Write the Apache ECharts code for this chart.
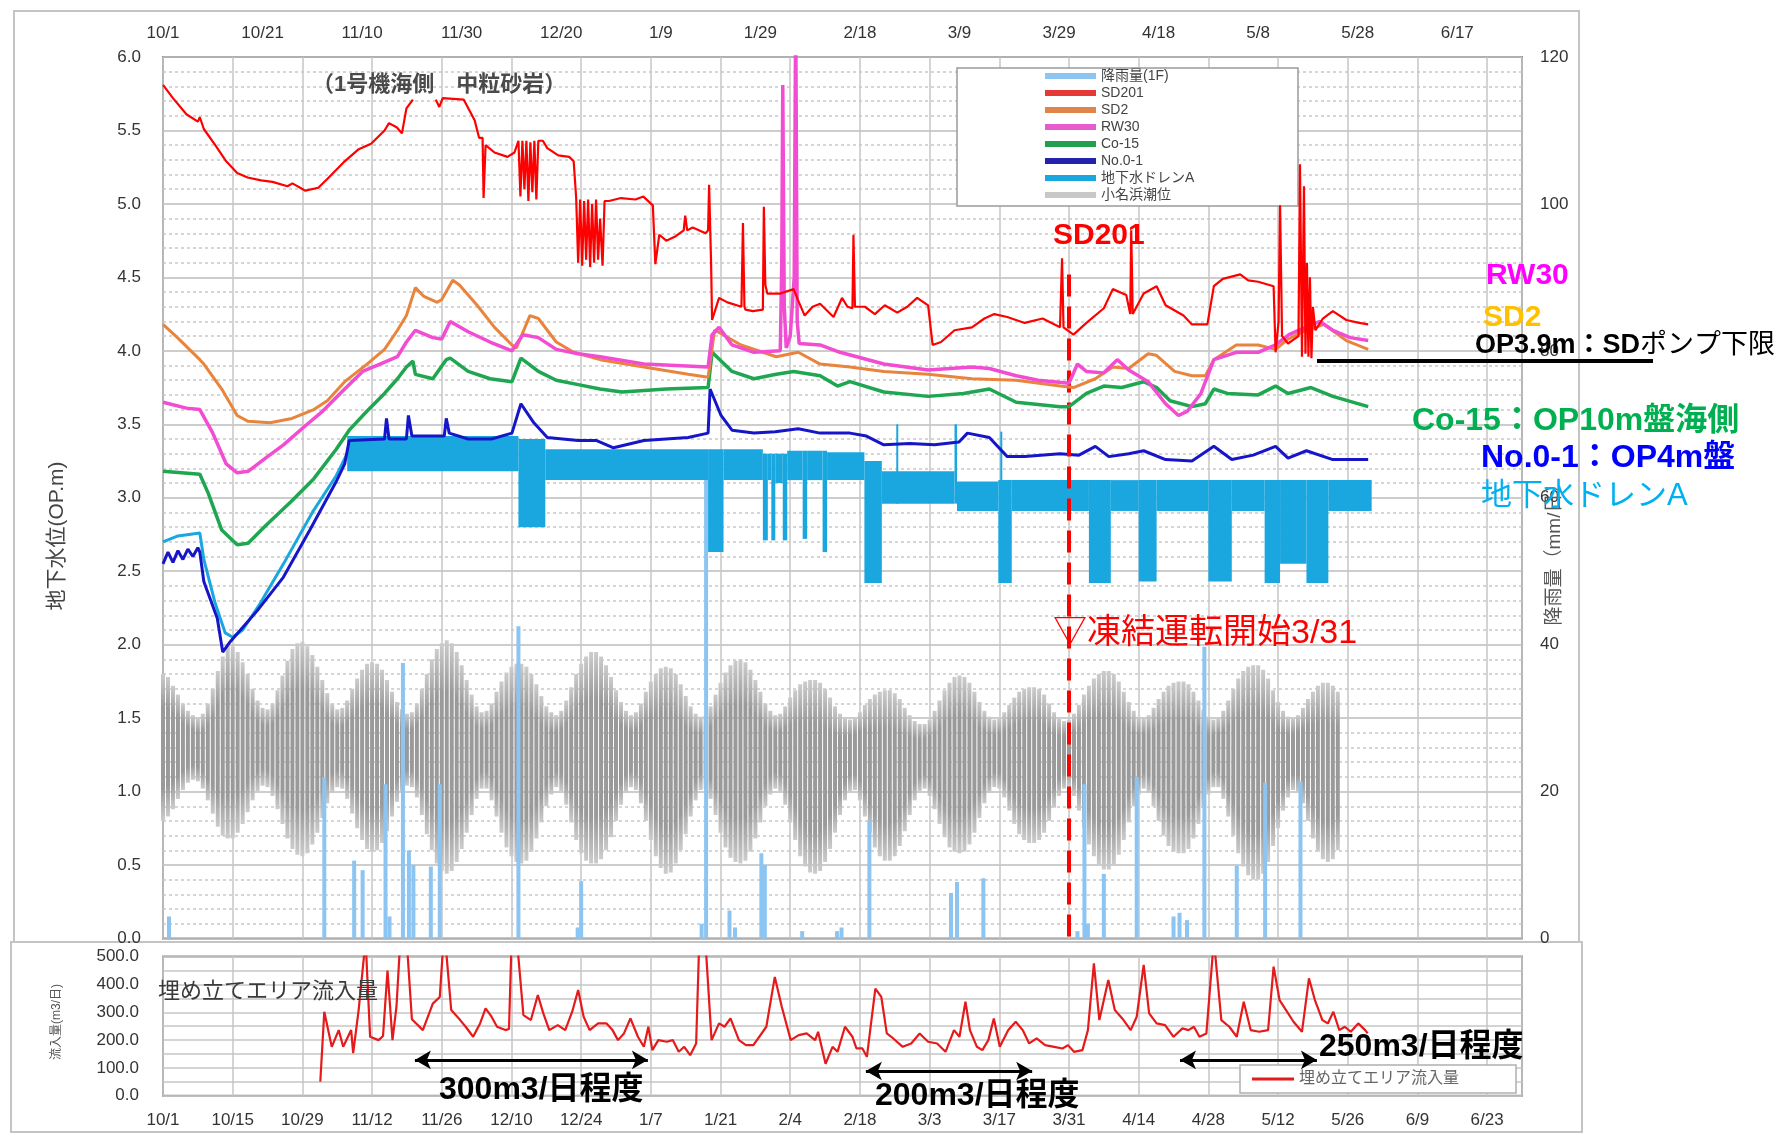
<!DOCTYPE html>
<html><head><meta charset="utf-8">
<script src="https://cdn.jsdelivr.net/npm/echarts/dist/echarts.min.js"></script>
<style>html,body{margin:0;padding:0;background:#fff}#c{width:1775px;height:1133px}</style>
</head><body><div id="c"></div>
<script>
// ---------- DATA (x = days since 2015/10/1) ----------
const sd201 = [[0,5.81],[2,5.72],[4.7,5.61],[7,5.56],[7.4,5.59],[8.2,5.51],[10.5,5.40],[12.7,5.29],[14.9,5.21],[17,5.18],[19.7,5.16],[22,5.15],[25,5.12],[26,5.14],[28.6,5.09],[31.2,5.11],[33,5.17],[36.5,5.29],[39.2,5.37],[41.8,5.41],[44.5,5.50],[45.4,5.55],[47,5.52],[48,5.48],[48.9,5.65],[50.2,5.71],[51,null],[54.8,5.71],[55.5,5.66],[56.2,5.72],[60.4,5.71],[62.6,5.57],[63.5,5.45],[64.2,5.45],[64.4,5.04],[64.8,5.40],[66.6,5.35],[69.2,5.32],[70.6,5.35],[71.4,5.43],[71.8,5.05],[72.2,5.43],[72.6,5.10],[73,5.43],[73.4,5.02],[73.8,5.42],[74.2,5.08],[74.6,5.43],[75,5.03],[75.4,5.43],[76.3,5.43],[77.2,5.38],[79.4,5.33],[81.6,5.32],[82.5,5.29],[83,5.04],[83.4,4.60],[83.8,5.03],[84.2,4.58],[84.6,5.02],[85,4.62],[85.4,5.03],[85.8,4.57],[86.2,5.00],[86.6,4.60],[87,5.03],[87.4,4.62],[87.8,4.90],[88.3,4.58],[88.7,5.02],[89.6,5.02],[92,5.04],[94.9,5.03],[96.5,5.05],[98.4,4.99],[98.9,4.59],[99.7,4.79],[101.1,4.75],[103,4.78],[104.6,4.82],[104.9,4.92],[105.3,4.82],[106.4,4.84],[109,4.80],[109.5,4.82],[109.7,5.13],[110.1,4.60],[110.3,4.21],[111.7,4.36],[113.4,4.33],[116.2,4.30],[116.5,4.87],[116.8,4.30],[117,4.28],[118.5,4.27],[120.5,4.28],[120.7,4.98],[121,4.45],[121.4,4.39],[124,4.39],[126.7,4.42],[127.5,4.35],[128.9,4.24],[130.5,4.30],[132,4.32],[134.7,4.23],[136.4,4.36],[137.5,4.30],[138.5,4.29],[138.7,4.79],[139,4.30],[141,4.30],[143,4.25],[145,4.31],[147.5,4.26],[149.5,4.30],[151.5,4.36],[153.7,4.31],[154.6,4.04],[156.3,4.06],[159,4.14],[162.5,4.16],[165,4.22],[167,4.25],[169.6,4.23],[173.1,4.19],[176.7,4.22],[180.2,4.16],[180.6,4.63],[180.9,4.16],[182.9,4.11],[185.5,4.19],[189,4.29],[190.8,4.42],[193.5,4.38],[194.3,4.25],[194.5,4.82],[194.8,4.25],[197,4.39],[199.6,4.44],[201.4,4.31],[205,4.24],[206.7,4.18],[209.8,4.18],[211.1,4.44],[212.9,4.49],[216.4,4.52],[218,4.48],[220,4.47],[223.1,4.44],[223.5,3.99],[224.1,4.20],[224.4,4.99],[224.8,4.10],[226,4.05],[228.1,4.10],[228.4,5.27],[228.8,3.96],[229.2,5.12],[229.5,3.98],[229.8,4.60],[230.1,3.96],[230.4,4.50],[230.7,3.95],[231,4.30],[231.5,4.14],[233,4.22],[235,4.27],[237.7,4.21],[240.3,4.19],[242.1,4.18]];

const sd2 = [[0,4.18],[2.9,4.09],[7.4,3.94],[8.2,3.91],[11.8,3.74],[14.9,3.56],[17.1,3.52],[21.5,3.51],[25.9,3.54],[30.3,3.60],[33,3.66],[36.5,3.79],[41,3.91],[44.5,4.01],[47.1,4.14],[48.9,4.24],[50.7,4.43],[52.4,4.37],[55.1,4.33],[56,4.35],[58.2,4.48],[59.5,4.45],[63.1,4.31],[66.6,4.16],[70.1,4.04],[71,4.02],[73.7,4.24],[75.4,4.22],[79,4.06],[82.5,3.99],[87.8,3.94],[96.6,3.89],[105.5,3.84],[109.5,3.82],[110.8,4.14],[112,4.12],[116.1,4.04],[123.2,3.96],[127.6,3.99],[132,3.91],[138,3.89],[144.8,3.86],[153.7,3.84],[162.5,3.81],[171.4,3.80],[180.2,3.76],[182.9,3.75],[187.3,3.81],[190.8,3.89],[194,3.88],[197.9,3.98],[199.5,3.97],[203.2,3.86],[206.7,3.83],[209.4,3.83],[211.1,3.94],[215.6,4.04],[220,4.04],[223.5,4.01],[226,4.08],[229,4.13],[233.2,4.18],[237.7,4.07],[242.1,4.01]];

const rw30 = [[0,3.65],[4.7,3.61],[7.4,3.60],[10,3.44],[12.7,3.23],[14.9,3.17],[17.1,3.18],[20.6,3.27],[24.2,3.36],[28.6,3.49],[32.1,3.59],[36.5,3.74],[40.1,3.86],[43.6,3.91],[47.1,3.96],[48.9,4.06],[50.7,4.14],[54.2,4.09],[56,4.08],[57.7,4.20],[61.3,4.13],[65.7,4.06],[70.1,4.00],[72.3,4.11],[75.4,4.09],[79,4.01],[83.4,3.98],[87.8,3.96],[96.6,3.91],[109.5,3.89],[110.3,4.11],[111.7,4.16],[114.3,4.04],[118.7,3.99],[124,4.00],[124.3,4.60],[124.5,5.81],[124.8,4.30],[125.2,4.02],[126,4.10],[126.8,4.50],[127.1,6.30],[127.4,4.20],[127.8,4.05],[132,4.04],[136,3.99],[144.8,3.91],[153.7,3.87],[162.5,3.89],[166,3.88],[171.4,3.83],[175.8,3.80],[182,3.78],[183.7,3.91],[185.5,3.86],[189,3.85],[191.7,3.94],[194,3.87],[197.9,3.79],[201.4,3.64],[204,3.56],[205.8,3.59],[208.5,3.71],[211.1,3.94],[215.6,3.99],[220,3.99],[223.5,4.04],[226.2,4.11],[228.8,4.15],[232.4,4.20],[235,4.14],[238.5,4.09],[242.1,4.07]];

const co15 = [[0,3.18],[7.4,3.16],[9.1,3.03],[11.8,2.78],[14.9,2.68],[17.1,2.69],[20.6,2.81],[25.9,2.98],[30.3,3.13],[34.8,3.33],[37.4,3.46],[41,3.59],[44.5,3.71],[47.1,3.81],[48.9,3.89],[50.2,3.93],[50.7,3.84],[54.2,3.81],[56.9,3.94],[57.7,3.95],[61.3,3.86],[65.7,3.81],[70.1,3.79],[71.9,3.95],[75.4,3.86],[79,3.80],[83.4,3.77],[87.8,3.74],[92.2,3.72],[101.1,3.74],[109.5,3.75],[110.3,3.99],[114.3,3.86],[118.7,3.81],[123.2,3.84],[126.7,3.86],[132,3.83],[135.5,3.76],[138,3.79],[144.8,3.72],[153.7,3.69],[160.8,3.71],[166,3.74],[171.4,3.65],[180.2,3.62],[182,3.62],[185.5,3.71],[189,3.76],[192.6,3.75],[197,3.79],[199.6,3.75],[202.3,3.66],[206.7,3.62],[209.4,3.64],[211.1,3.74],[213.8,3.71],[220,3.70],[223.5,3.76],[226,3.71],[230.6,3.75],[235,3.69],[242.1,3.62]];

const no01 = [[0,2.55],[1,2.63],[2,2.56],[3,2.64],[4,2.58],[5,2.65],[6,2.60],[7,2.66],[7.4,2.63],[8.2,2.43],[10.9,2.18],[12,1.95],[13.5,2.02],[18.9,2.23],[24.2,2.46],[29.5,2.78],[34.8,3.11],[36.5,3.23],[37.4,3.39],[44.5,3.40],[44.9,3.54],[45.4,3.40],[48.9,3.40],[49.3,3.56],[50,3.42],[56.5,3.42],[56.9,3.54],[57.5,3.44],[61.3,3.40],[66,3.40],[70.1,3.44],[71.9,3.64],[74.5,3.51],[77.2,3.41],[83.4,3.39],[87,3.39],[90.5,3.34],[96.6,3.39],[105.5,3.41],[109.5,3.44],[109.9,3.74],[112.1,3.56],[114.3,3.46],[118.7,3.44],[123,3.45],[127.6,3.47],[132,3.44],[138,3.44],[141.3,3.42],[144.8,3.36],[150,3.37],[155,3.36],[159.9,3.38],[161.6,3.44],[166,3.41],[169.6,3.28],[173.1,3.28],[180.2,3.30],[184,3.29],[187.3,3.35],[190,3.28],[194,3.30],[197,3.32],[201.4,3.26],[206.7,3.25],[211.1,3.35],[214.7,3.26],[219,3.29],[223.5,3.35],[226,3.27],[229.7,3.32],[235,3.26],[242.1,3.26]];

const drainLine = [[0,2.70],[3,2.74],[7.4,2.76],[8.2,2.58],[10.5,2.28],[12.5,2.08],[14,2.05],[16,2.10],[19.5,2.28],[24.2,2.55],[30,2.90],[34.8,3.15],[37,3.30]];
// [start day, end day, low, high]
const drainBand = [[37,71.4,3.18,3.42],[71.4,76.8,2.80,3.40],[76.8,109.5,3.12,3.33],[109.5,112.6,2.63,3.33],[112.6,120.5,3.12,3.33],[120.5,121.5,2.71,3.30],[121.5,122.2,3.12,3.30],[122.2,123,2.71,3.30],[123,124.5,3.10,3.30],[124.5,125.4,2.71,3.30],[125.4,128.5,3.12,3.32],[128.5,129.4,2.72,3.32],[129.4,132.5,3.12,3.32],[132.5,133.4,2.63,3.32],[133.4,140.9,3.12,3.31],[140.9,144.4,2.42,3.25],[144.4,159,2.96,3.18],[147.3,147.7,2.96,3.50],[159,159.5,2.96,3.50],[159.5,167.8,2.91,3.11],[167.8,170.5,2.42,3.12],[168.2,168.6,2.90,3.45],[170.5,186,2.91,3.12],[186,190.4,2.42,3.12],[190.4,196,2.91,3.12],[196,199.6,2.43,3.12],[199.6,210,2.91,3.12],[210,214.7,2.43,3.12],[214.7,221.3,2.91,3.12],[221.3,224.4,2.42,3.12],[224.4,229.7,2.55,3.12],[229.7,234.1,2.42,3.12],[234.1,242.8,2.91,3.12]];

// 小名浜潮位: daily high / low (day 0..236)
const tideHigh = [1.80,1.78,1.72,1.66,1.60,1.55,1.52,1.50,1.53,1.60,1.70,1.82,1.92,2.00,
1.99,1.95,1.88,1.80,1.70,1.62,1.57,1.56,1.60,1.69,1.79,1.89,1.97,2.01,2.02,
1.99,1.93,1.85,1.76,1.67,1.60,1.56,1.57,1.62,1.70,1.77,1.83,1.87,1.88,
1.87,1.83,1.76,1.68,1.61,1.56,1.53,1.54,1.60,1.70,1.80,1.90,1.97,2.01,2.03,
2.01,1.95,1.86,1.76,1.66,1.58,1.54,1.55,1.60,1.68,1.75,1.81,1.85,1.87,1.87,
1.85,1.80,1.73,1.65,1.58,1.54,1.52,1.55,1.62,1.71,1.80,1.87,1.92,1.95,1.95,
1.92,1.86,1.78,1.69,1.61,1.55,1.52,1.54,1.60,1.68,1.75,1.80,1.84,1.85,
1.84,1.80,1.73,1.65,1.58,1.53,1.51,1.52,1.58,1.66,1.74,1.81,1.86,1.89,1.90,
1.88,1.83,1.76,1.68,1.60,1.55,1.52,1.53,1.58,1.64,1.69,1.73,1.75,1.76,1.76,
1.74,1.70,1.64,1.58,1.53,1.50,1.49,1.50,1.54,1.59,1.63,1.66,1.68,1.69,1.69,
1.67,1.63,1.57,1.52,1.48,1.46,1.46,1.49,1.55,1.62,1.69,1.74,1.78,1.79,
1.78,1.74,1.68,1.61,1.55,1.51,1.49,1.50,1.54,1.59,1.64,1.68,1.70,1.71,1.71,
1.70,1.66,1.60,1.54,1.50,1.48,1.49,1.53,1.59,1.66,1.72,1.77,1.80,1.82,1.82,
1.80,1.75,1.68,1.61,1.55,1.51,1.50,1.52,1.57,1.63,1.68,1.72,1.74,1.75,1.75,
1.73,1.68,1.62,1.56,1.51,1.49,1.50,1.55,1.62,1.70,1.77,1.82,1.85,1.86,1.86,
1.83,1.77,1.69,1.61,1.55,1.51,1.50,1.52,1.57,1.63,1.68,1.72,1.74,1.74,1.72,1.68];
const tideLow = [0.80,0.83,0.88,0.95,1.01,1.06,1.08,1.07,1.02,0.94,0.85,0.76,0.70,0.68,
0.68,0.72,0.78,0.86,0.94,1.00,1.04,1.03,0.97,0.88,0.78,0.68,0.61,0.57,0.56,
0.58,0.64,0.72,0.82,0.92,0.99,1.03,1.02,0.95,0.85,0.75,0.67,0.61,0.59,
0.60,0.65,0.73,0.83,0.93,1.00,1.04,1.03,0.96,0.84,0.71,0.60,0.51,0.46,0.44,
0.46,0.52,0.61,0.72,0.84,0.95,1.02,1.02,0.94,0.83,0.72,0.62,0.56,0.52,0.51,
0.53,0.59,0.68,0.79,0.90,0.98,1.03,1.00,0.91,0.79,0.67,0.58,0.53,0.51,0.51,
0.54,0.60,0.69,0.80,0.91,0.99,1.03,1.01,0.92,0.80,0.67,0.56,0.48,0.44,
0.45,0.51,0.60,0.71,0.83,0.94,1.01,1.02,0.95,0.84,0.72,0.62,0.55,0.52,0.51,
0.53,0.59,0.68,0.79,0.90,0.98,1.02,1.00,0.91,0.79,0.67,0.56,0.49,0.45,0.44,
0.46,0.52,0.61,0.72,0.84,0.94,1.00,1.01,0.94,0.83,0.72,0.62,0.56,0.53,0.53,
0.56,0.63,0.73,0.84,0.94,1.00,1.02,0.97,0.88,0.78,0.69,0.62,0.59,0.58,
0.59,0.64,0.72,0.82,0.92,0.99,1.03,1.02,0.96,0.87,0.78,0.71,0.67,0.65,0.65,
0.67,0.72,0.80,0.89,0.97,1.02,1.03,0.97,0.87,0.75,0.64,0.56,0.50,0.47,0.47,
0.50,0.57,0.67,0.79,0.90,0.98,1.02,0.99,0.90,0.80,0.70,0.63,0.59,0.58,0.58,
0.61,0.68,0.78,0.89,0.98,1.03,1.03,0.95,0.83,0.70,0.58,0.49,0.43,0.40,0.40,
0.44,0.52,0.63,0.75,0.87,0.96,1.01,1.00,0.92,0.80,0.68,0.59,0.54,0.52,0.54,0.60];

// 降雨量(1F) mm/日
const rain = [[1.2,3],[32.4,22],[38.4,10.6],[40.1,9.3],[44.7,21],[45.5,3],[48.2,37.5],[49.4,12],[50.3,10],[53.8,9.8],[55.6,21],[71.4,42.5],[83.3,1.5],[84,7.8],[108.2,2],[109.1,66],[113.8,3.8],[114.9,1.5],[120.2,11.6],[120.9,10],[128.4,1],[135.4,1],[136.3,1.5],[141.9,16],[158.3,6.2],[159.5,7.7],[164.8,8.2],[183.7,1],[185.1,21],[185.8,2],[189,8.8],[195.6,22],[203,3],[204.2,3.5],[205.7,2.5],[209.2,39.7],[215.7,9.9],[221.4,21.2],[228.5,21.4]];

// 埋め立てエリア流入量 m3/日
const inflow = [[31.6,51],[32.4,302],[33.9,176],[35.3,236],[36.2,176],[37.8,236],[38.2,153],[39.3,308],[40.7,560],[41.6,212],[43.3,200],[44.2,215],[45.1,450],[46.1,200],[46.9,320],[47.8,600],[48.8,600],[50,275],[52.2,236],[54.2,331],[55.6,355],[56.5,600],[57.9,308],[59.7,272],[60.8,248],[62.3,212],[63.7,260],[64.8,314],[66,284],[67.1,248],[68.8,236],[69.5,240],[70.1,600],[70.9,600],[72.4,290],[73.9,272],[75.3,362],[76.4,296],[77.6,236],[79.3,254],[80.8,236],[82.2,302],[83.4,380],[84.5,284],[85.7,236],[87.4,260],[89.1,260],[90.3,236],[91.4,200],[92.6,224],[93.9,278],[95.4,212],[96.6,176],[97.5,248],[98.3,164],[99.5,200],[101.2,194],[102.4,200],[103.6,158],[104.7,176],[105.9,146],[107.1,188],[107.8,600],[108.8,600],[110.2,200],[111.7,260],[112.8,248],[114,278],[115.7,200],[117.1,182],[118.6,182],[121.2,248],[122.9,427],[124.3,320],[126.1,200],[127.7,218],[129.3,224],[131,200],[131.6,230],[133.1,115],[134.5,176],[135.5,158],[137,248],[138.5,212],[139.3,170],[140.5,170],[141.4,140],[143.1,385],[144.3,355],[145.4,224],[146.3,212],[148.6,176],[150.3,188],[152,224],[153.7,194],[155.5,188],[157.2,158],[158.9,236],[160,212],[161.2,338],[162.1,236],[163.5,176],[164.6,164],[165.8,200],[166.9,278],[168.1,176],[169.8,236],[171.3,266],[172.7,236],[174,188],[175.5,206],[177.2,182],[179,176],[180.7,170],[181.8,182],[183,158],[184.7,164],[185.8,236],[187,476],[188.1,272],[189.9,416],[191.2,308],[192.7,278],[194.4,236],[195.6,284],[197,470],[198.1,296],[199.6,260],[201.3,254],[203,212],[204.8,242],[206,236],[207.1,248],[208.2,212],[209.6,224],[211.1,560],[212.6,272],[214.2,248],[215.7,212],[217.1,338],[218.5,236],[220.2,230],[222,236],[223.1,464],[224.3,344],[225.6,308],[227.1,266],[228.8,230],[230.2,422],[231.4,344],[232.9,272],[234,260],[235.1,302],[236.3,236],[237.4,248],[238.6,230],[240.1,260],[241.5,236],[242,224]];

const legendNames = ['降雨量(1F)','SD201','SD2','RW30','Co-15','No.0-1','地下水ドレンA','小名浜潮位'];
const freezeDay = 182; // 3/31

// ---------- CHART ----------
const FF = '"Liberation Sans", Arial, "Noto Sans CJK JP", sans-serif';
const JF = '"Liberation Sans", "Noto Sans CJK JP", sans-serif';
function dayLabel(d){ const t = new Date(2015, 9, 1 + Math.round(d)); return (t.getMonth()+1) + '/' + t.getDate(); }

const tideData = tideHigh.map((h, i) => [i, tideLow[i], h]);

const tideFill = {type:'linear', x:0, y:0, x2:0, y2:1, colorStops:[
  {offset:0, color:'#cccccc'},{offset:0.22, color:'#9a9a9a'},{offset:0.78, color:'#9a9a9a'},{offset:1, color:'#cccccc'}]};

function renderTide(params, api){
  const x = api.value(0);
  const p1 = api.coord([x, api.value(2)]);
  const p2 = api.coord([x, api.value(1)]);
  const w = api.size([1, 0])[0] * 0.8;
  return {type:'rect', shape:{x:p1[0]-w/2, y:p1[1], width:w, height:p2[1]-p1[1]}, style:{fill:tideFill}};
}
function renderBand(params, api){
  const a = api.coord([api.value(0), api.value(3)]);
  const b = api.coord([api.value(1), api.value(2)]);
  return {type:'rect', shape:{x:a[0], y:a[1], width:Math.max(b[0]-a[0], 1.6), height:b[1]-a[1]}, style:{fill:'#1AA7E0'}};
}

const lineBase = {type:'line', xAxisIndex:0, yAxisIndex:0, showSymbol:false, symbol:'none', silent:true, connectNulls:false};

const axLabel = {fontSize:17, color:'#333', fontFamily:FF};

const option = {
  animation:false,
  backgroundColor:'#ffffff',
  textStyle:{fontFamily:FF},
  grid:[
    {left:163, top:57, width:1359, height:881.5, show:true, borderColor:'#8c8c8c', borderWidth:2},
    {left:163, top:956.6, width:1359, height:139.2, show:true, borderColor:'#8c8c8c', borderWidth:2}
  ],
  xAxis:[
    {gridIndex:0, type:'value', min:0, max:273, interval:14, position:'bottom',
     axisLine:{show:false}, axisTick:{show:false}, axisLabel:{show:false},
     splitLine:{show:true, lineStyle:{color:'#c6c6c6', width:1.5}}},
    {gridIndex:0, type:'value', min:0, max:273, interval:20, position:'top',
     axisLine:{show:false}, axisTick:{show:false}, splitLine:{show:false},
     axisLabel:Object.assign({margin:15, formatter:dayLabel, showMaxLabel:false}, axLabel)},
    {gridIndex:1, type:'value', min:0, max:273, interval:14, position:'bottom',
     axisLine:{show:false}, axisTick:{show:false},
     splitLine:{show:true, lineStyle:{color:'#c6c6c6', width:1.5}},
     axisLabel:Object.assign({margin:16, formatter:dayLabel, showMaxLabel:false}, axLabel)}
  ],
  yAxis:[
    {gridIndex:0, type:'value', min:0, max:6, interval:0.5,
     axisLine:{show:false}, axisTick:{show:false},
     axisLabel:Object.assign({margin:22, formatter:v => v.toFixed(1)}, axLabel),
     splitLine:{lineStyle:{color:'#bdbdbd', width:1.5}},
     minorTick:{show:false, splitNumber:5},
     minorSplitLine:{show:true, lineStyle:{color:'#c8c8c8', width:1.5, type:[3,3]}}},
    {gridIndex:0, type:'value', min:0, max:120, interval:20, position:'right',
     axisLine:{show:false}, axisTick:{show:false}, splitLine:{show:false},
     axisLabel:Object.assign({margin:18}, axLabel)},
    {gridIndex:1, type:'value', min:0, max:500, interval:100,
     axisLine:{show:false}, axisTick:{show:false},
     axisLabel:Object.assign({margin:24, formatter:v => v.toFixed(1)}, axLabel),
     splitLine:{lineStyle:{color:'#c6c6c6', width:1.5}},
     minorTick:{show:false, splitNumber:2},
     minorSplitLine:{show:true, lineStyle:{color:'#c6c6c6', width:1.5}}}
  ],
  legend:[
    {data:legendNames.map(n => ({name:n})), orient:'vertical', left:1045, top:69, itemWidth:51, itemHeight:6, itemGap:3,
     icon:'rect', selectedMode:false, padding:0, z:10,
     textStyle:{fontSize:14, lineHeight:14, color:'#444', fontFamily:JF}},
    {data:['埋め立てエリア流入量'], left:1252, top:1071, itemWidth:42, itemHeight:3, icon:'rect',
     selectedMode:false, padding:0, z:10, textStyle:{fontSize:16, color:'#666', fontFamily:JF}}
  ],
  series:[
    {name:'小名浜潮位', type:'custom', xAxisIndex:0, yAxisIndex:0, renderItem:renderTide, data:tideData,
     encode:{x:0, y:[1,2]}, itemStyle:{color:'#c8c8c8'}, silent:true, z:1},
    {name:'降雨量(1F)', type:'bar', xAxisIndex:0, yAxisIndex:1, data:rain, barWidth:4,
     itemStyle:{color:'#8CC4F2'}, silent:true, z:2},
    {name:'地下水ドレンA', type:'custom', xAxisIndex:0, yAxisIndex:0, renderItem:renderBand, data:drainBand,
     encode:{x:[0,1], y:[2,3]}, itemStyle:{color:'#1AA7E0'}, silent:true, z:3},
    Object.assign({}, lineBase, {name:'地下水ドレンA', data:drainLine, lineStyle:{color:'#1AA7E0', width:3}, itemStyle:{color:'#1AA7E0'}, z:3}),
    Object.assign({}, lineBase, {name:'No.0-1', data:no01, lineStyle:{color:'#1616C8', width:3}, itemStyle:{color:'#2222AA'}, z:4}),
    Object.assign({}, lineBase, {name:'Co-15', data:co15, lineStyle:{color:'#1EA650', width:3.5}, itemStyle:{color:'#22A050'}, z:5}),
    Object.assign({}, lineBase, {name:'SD2', data:sd2, lineStyle:{color:'#E8843C', width:3}, itemStyle:{color:'#E0854A'}, z:6}),
    Object.assign({}, lineBase, {name:'RW30', data:rw30, lineStyle:{color:'#F24CD2', width:3.5}, itemStyle:{color:'#E85BCF'}, z:7}),
    Object.assign({}, lineBase, {name:'SD201', data:sd201, lineStyle:{color:'#FF0000', width:2.2}, itemStyle:{color:'#E53935'}, z:8,
      markLine:{silent:true, symbol:['none','none'], label:{show:false},
        lineStyle:{color:'#FF0000', width:4, type:[22,10]},
        data:[[{coord:[freezeDay, 4.52]}, {coord:[freezeDay, 0]}]]}}),
    {name:'埋め立てエリア流入量', type:'line', xAxisIndex:2, yAxisIndex:2, data:inflow, showSymbol:false, symbol:'none',
     lineStyle:{color:'#E51A1A', width:2.2}, itemStyle:{color:'#E51A1A'}, silent:true, z:5,
     markLine:{silent:true, symbol:['arrow','arrow'], symbolSize:[14,16], label:{show:false},
       lineStyle:{color:'#000', width:3, type:'solid'},
       data:[
         [{coord:[50.6,129]},{coord:[97.4,129]}],
         [{coord:[141.2,89]},{coord:[174.6,89]}],
         [{coord:[204.3,129]},{coord:[231.8,129]}]
       ]}}
  ],
  graphic:[
    // panel frames
    {type:'rect', shape:{x:14, y:11, width:1565, height:931}, style:{fill:'none', stroke:'#c4c4c4', lineWidth:2}, z:0, silent:true},
    {type:'rect', shape:{x:11, y:942, width:1571, height:190}, style:{fill:'none', stroke:'#c4c4c4', lineWidth:2}, z:0, silent:true},
    // legend boxes
    {type:'rect', shape:{x:957, y:68, width:341, height:138}, style:{fill:'#fff', stroke:'#9a9a9a', lineWidth:1.5}, z:3, silent:true},
    {type:'rect', shape:{x:1240, y:1065, width:276, height:28}, style:{fill:'#fff', stroke:'#b0b0b0', lineWidth:1.5}, z:3, silent:true},
    // axis titles
    {type:'text', x:57, y:536, rotation:Math.PI/2, style:{text:'地下水位(OP.m)', fontSize:21, fill:'#444', fontFamily:JF, align:'center', verticalAlign:'middle'}, z:10},
    {type:'text', x:1555, y:550, rotation:Math.PI/2, style:{text:'降雨量（mm/日）', fontSize:19, fill:'#555', fontFamily:JF, align:'center', verticalAlign:'middle'}, z:10},
    {type:'text', x:57, y:1022, rotation:Math.PI/2, style:{text:'流入量(m3/日)', fontSize:12, fill:'#555', fontFamily:JF, align:'center', verticalAlign:'middle'}, z:10},
    // annotations
    {type:'text', x:312, y:85, style:{text:'（1号機海側　中粒砂岩）', fontSize:22, fontWeight:'bold', fill:'#4a4a4a', fontFamily:JF, verticalAlign:'middle'}, z:10},
    {type:'text', x:1053, y:236, style:{text:'SD201', fontSize:30, fontWeight:'bold', fill:'#FF0000', fontFamily:FF, verticalAlign:'middle'}, z:10},
    {type:'text', x:1486, y:276, style:{text:'RW30', fontSize:30, fontWeight:'bold', fill:'#FF00FF', fontFamily:FF, verticalAlign:'middle'}, z:10},
    {type:'text', x:1483, y:318, style:{text:'SD2', fontSize:30, fontWeight:'bold', fill:'#FFC000', fontFamily:FF, verticalAlign:'middle'}, z:10},
    {type:'text', x:1475, y:346, style:{text:'{a|OP3.9m：SD}{b|ポンプ下限}', verticalAlign:'middle',
      rich:{a:{fontSize:27, fontWeight:'bold', fill:'#000', fontFamily:JF}, b:{fontSize:27, fill:'#000', fontFamily:JF}}}, z:10},
    {type:'line', shape:{x1:1317, y1:361, x2:1653, y2:361}, style:{stroke:'#000', lineWidth:4}, z:10},
    {type:'text', x:1412, y:421, style:{text:'Co-15：OP10m盤海側', fontSize:32, fontWeight:'bold', fill:'#00B050', fontFamily:JF, verticalAlign:'middle'}, z:10},
    {type:'text', x:1481, y:458, style:{text:'No.0-1：OP4m盤', fontSize:32, fontWeight:'bold', fill:'#0000FF', fontFamily:JF, verticalAlign:'middle'}, z:10},
    {type:'text', x:1481, y:496, style:{text:'地下水ドレンA', fontSize:31, fill:'#00B0F0', fontFamily:JF, verticalAlign:'middle'}, z:10},
    {type:'text', x:1053, y:634, style:{text:'▽凍結運転開始3/31', fontSize:34, fill:'#FF0000', fontFamily:JF, verticalAlign:'middle'}, z:10},
    {type:'text', x:158, y:992, style:{text:'埋め立てエリア流入量', fontSize:22, fill:'#3a3a3a', fontFamily:JF, verticalAlign:'middle'}, z:10},
    {type:'text', x:439, y:1090, style:{text:'300m3/日程度', fontSize:32, fontWeight:'bold', fill:'#000', fontFamily:JF, verticalAlign:'middle'}, z:10},
    {type:'text', x:875, y:1096, style:{text:'200m3/日程度', fontSize:32, fontWeight:'bold', fill:'#000', fontFamily:JF, verticalAlign:'middle'}, z:10},
    {type:'text', x:1319, y:1047, style:{text:'250m3/日程度', fontSize:32, fontWeight:'bold', fill:'#000', fontFamily:JF, verticalAlign:'middle'}, z:10}
  ]
};

const chart = echarts.init(document.getElementById('c'), null, {renderer:'canvas', width:1775, height:1133});
chart.setOption(option);
</script>
</body></html>
